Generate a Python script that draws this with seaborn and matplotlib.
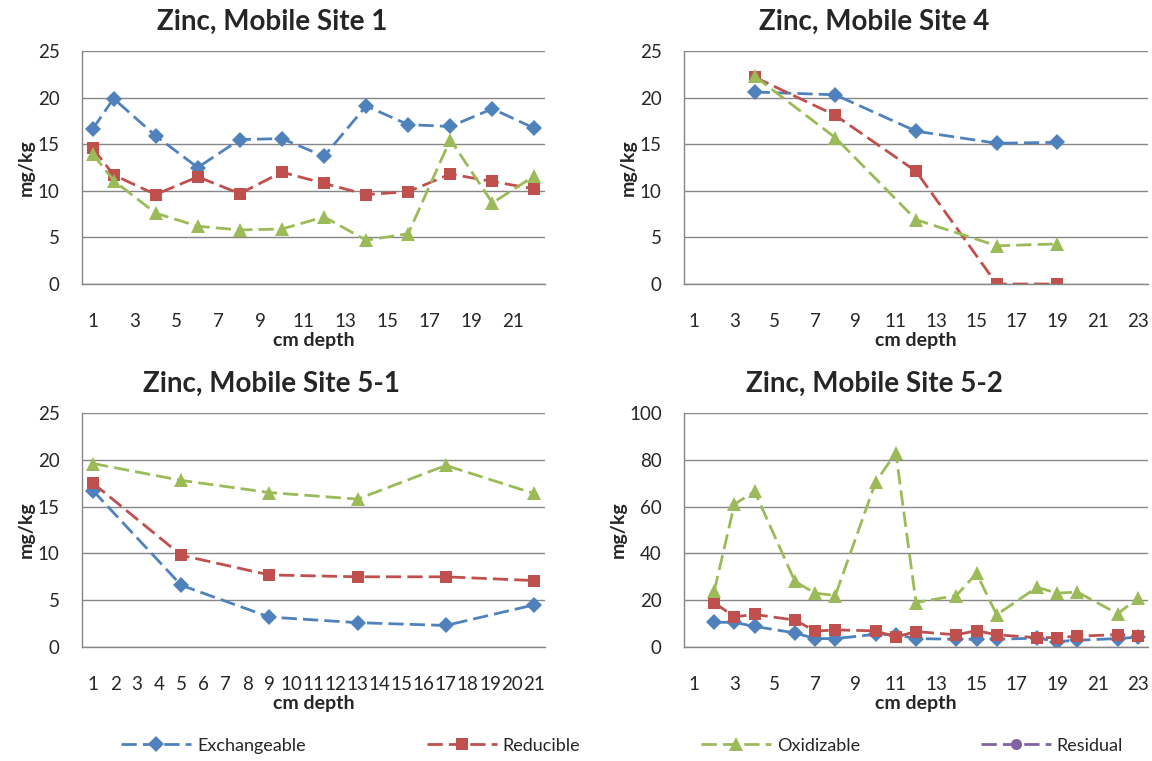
import matplotlib.pyplot as plt
import seaborn as sns
from matplotlib.lines import Line2D

sns.set_style("white")
plt.rcParams['font.family'] = ['Lato', 'DejaVu Sans']

fractions = ["Exchangeable", "Reducible", "Oxidizable", "Residual"]
colors = ["#4F81BD", "#C0504D", "#9BBB59", "#8064A2"]
markers = ["D", "s", "^", "o"]
msizes = [8.5, 8, 9.5, 8]

# Site 1
site1_depth = [1, 2, 4, 6, 8, 10, 12, 14, 16, 18, 20, 22]
site1_exch = [16.6, 19.9, 15.9, 12.5, 15.5, 15.6, 13.7, 19.1, 17.1, 16.9, 18.8, 16.7]
site1_red = [14.6, 11.7, 9.6, 11.5, 9.7, 12.0, 10.8, 9.6, 9.9, 11.8, 11.0, 10.2]
site1_oxi = [14.0, 11.1, 7.6, 6.2, 5.8, 5.9, 7.2, 4.7, 5.4, 15.5, 8.7, 11.6]

# Site 4
site4_depth = [4, 8, 12, 16, 19]
site4_exch = [20.6, 20.3, 16.4, 15.1, 15.2]
site4_red = [22.2, 18.1, 12.1, 0.0, 0.0]
site4_oxi = [22.3, 15.7, 6.9, 4.1, 4.3]

# Site 5-1
site51_depth = [1, 5, 9, 13, 17, 21]
site51_exch = [16.7, 6.6, 3.2, 2.6, 2.3, 4.5]
site51_red = [17.5, 9.8, 7.7, 7.5, 7.5, 7.1]
site51_oxi = [19.6, 17.8, 16.5, 15.8, 19.4, 16.4]

# Site 5-2
site52_depth = [2, 3, 4, 6, 7, 8, 10, 11, 12, 14, 15, 16, 18, 19, 20, 22, 23]
site52_exch = [10.6, 10.5, 8.8, 6.0, 3.6, 3.6, 5.4, 5.3, 3.6, 3.3, 3.3, 3.3, 3.8, 2.3, 2.9, 3.6, 4.2]
site52_red = [18.9, 12.9, 13.9, 11.5, 6.8, 7.3, 6.9, 4.3, 6.6, 5.2, 7.0, 5.2, 4.0, 4.0, 4.6, 5.3, 4.7]
site52_oxi = [24.0, 61.0, 66.5, 28.0, 23.0, 22.0, 70.5, 83.0, 19.0, 22.0, 31.5, 13.8, 25.5, 23.0, 23.5, 14.2, 21.0]

GRAY = "#868686"
DASH = (0, (5.5, 2.2))

fig = plt.figure(figsize=(11.52, 7.61), dpi=100)


def draw_panel(rect, title, depth, series, ncat, label_step, ymax, ystep):
    ax = fig.add_axes(rect)
    for vals, c, m, ms in zip(series, colors, markers, msizes):
        sns.lineplot(x=depth, y=vals, ax=ax, color=c, marker=m, markersize=ms,
                     mec=c, mew=0, linewidth=2.0, linestyle=DASH, sort=False)
    ax.set_xlim(0.5, ncat + 0.5)
    ax.set_ylim(0, ymax)
    ax.set_xticks(list(range(1, ncat + 1, label_step)))
    ax.set_xticks([i + 0.5 for i in range(ncat + 1)], minor=True)
    ax.set_yticks(list(range(0, ymax + 1, ystep)))
    ax.tick_params(axis="x", which="major", length=0, pad=21, labelsize=13.5)
    ax.tick_params(axis="x", which="minor", length=4.5, width=1.0, color=GRAY, direction="out")
    ax.tick_params(axis="y", which="major", length=5, width=1.0, color=GRAY, pad=11, labelsize=13.5)
    ax.yaxis.grid(True, color=GRAY, linewidth=1.0)
    ax.set_axisbelow(True)
    for side in ["top", "right"]:
        ax.spines[side].set_visible(False)
    for side in ["left", "bottom"]:
        ax.spines[side].set_color(GRAY)
        ax.spines[side].set_linewidth(1.0)
    ax.set_xlabel("cm depth", fontsize=14, fontweight="bold", labelpad=1)
    ax.set_ylabel("mg/kg", fontsize=14, fontweight="bold", labelpad=2)
    ax.set_title(title, fontsize=20, fontweight="bold", x=0.41, pad=15)
    return ax


W, H = 1152, 761
def rect(left, top, right, bottom):
    return [left / W, 1 - bottom / H, (right - left) / W, (bottom - top) / H]

draw_panel(rect(82, 51, 545, 284), "Zinc, Mobile Site 1", site1_depth,
           [site1_exch, site1_red, site1_oxi], 22, 2, 25, 5)
draw_panel(rect(684, 51, 1148, 284), "Zinc, Mobile Site 4", site4_depth,
           [site4_exch, site4_red, site4_oxi], 23, 2, 25, 5)
draw_panel(rect(82, 413, 545, 647), "Zinc, Mobile Site 5-1", site51_depth,
           [site51_exch, site51_red, site51_oxi], 21, 1, 25, 5)
draw_panel(rect(684, 413, 1148, 647), "Zinc, Mobile Site 5-2", site52_depth,
           [site52_exch, site52_red, site52_oxi], 23, 2, 100, 20)

handles = [Line2D([], [], color=c, marker=m, markersize=ms, mew=0, linewidth=2.0, linestyle=DASH)
           for c, m, ms in zip(colors, markers, msizes)]
fig.legend(handles, fractions, loc="center", bbox_to_anchor=(0.54, 0.02), ncol=4,
           frameon=False, fontsize=13, handlelength=3.9, handletextpad=0.3,
           columnspacing=6.7, numpoints=1)

fig.savefig("out.png", dpi=100)
